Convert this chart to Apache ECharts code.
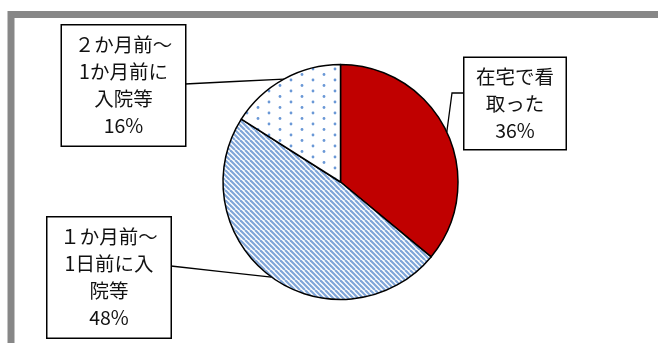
<!DOCTYPE html>
<html>
<head>
<meta charset="utf-8">
<script src="https://cdn.jsdelivr.net/npm/echarts@6/dist/echarts.min.js"></script>
<style>
html,body{margin:0;padding:0;background:#fff;}
#chart{width:658px;height:343px;}
</style>
</head>
<body>
<div id="chart"></div>
<script>
// Data
const categories = ['在宅で看\n取った', '１か月前～\n1日前に入\n院等', '２か月前～\n1か月前に\n入院等'];
const values = [36, 48, 16];

// Layout (positions only)
const CX = 340.5, CY = 182, R = 117.5;
const boxes = [
  {cx: 515, cy: 103.5, w: 101, pad: [5, 0], edge: [464, 93], elbow: [452, 93]},
  {cx: 109, cy: 277.5, w: 123, pad: [6, 0], edge: [171, 266]},
  {cx: 123.5, cy: 85.5, w: 123, pad: [6, 0], edge: [185, 84]}
];

function makeStripe() {
  const c = document.createElement('canvas');
  c.width = 10; c.height = 10;
  const g = c.getContext('2d');
  g.fillStyle = '#fff'; g.fillRect(0, 0, 10, 10);
  g.strokeStyle = '#7FA5D8'; g.lineWidth = 2.2;
  for (let o = -10; o <= 10; o += 5) {
    g.beginPath(); g.moveTo(o, 0); g.lineTo(o + 10, 10); g.stroke();
  }
  return c;
}
function makeDots() {
  const c = document.createElement('canvas');
  c.width = 22; c.height = 11;
  const g = c.getContext('2d');
  g.fillStyle = '#fff'; g.fillRect(0, 0, 22, 11);
  g.fillStyle = '#6A98D6';
  [[5, 3], [16, 8.5]].forEach(p => { g.beginPath(); g.arc(p[0], p[1], 1.4, 0, Math.PI * 2); g.fill(); });
  return c;
}

const fills = ['#C00000', {image: makeStripe(), repeat: 'repeat'}, {image: makeDots(), repeat: 'repeat'}];
const total = values.reduce((a, b) => a + b, 0);

const chart = echarts.init(document.getElementById('chart'), null, {renderer: 'canvas'});
chart.setOption({
  animation: false,
  graphic: [{
    type: 'rect', silent: true, z: -1,
    shape: {x: 11, y: 14.5, width: 720, height: 420},
    style: {fill: 'none', stroke: '#878787', lineWidth: 7}
  }],
  series: [{
    type: 'pie',
    center: [CX, CY],
    radius: R,
    startAngle: 90,
    clockwise: true,
    avoidLabelOverlap: false,
    emphasis: {disabled: true},
    itemStyle: {borderColor: '#000', borderWidth: 1.5},
    label: {
      show: true,
      formatter: '{b}\n{c}%',
      fontFamily: '"Noto Sans CJK JP", sans-serif',
      fontSize: 19.5,
      lineHeight: 27,
      color: '#111',
      backgroundColor: '#fff',
      borderColor: '#000',
      borderWidth: 1.5,
      align: 'center'
    },
    labelLine: {show: true, smooth: false, lineStyle: {color: '#000', width: 1.3}},
    labelLayout: function (params) {
      const i = params.dataIndex;
      const b = boxes[i];
      let cum = 0;
      for (let k = 0; k < i; k++) cum += values[k];
      const a = (cum + values[i] / 2) / total * Math.PI * 2;
      const p0 = [CX + R * Math.sin(a), CY - R * Math.cos(a)];
      const p1 = b.elbow ? b.elbow : [(p0[0] + b.edge[0]) / 2, (p0[1] + b.edge[1]) / 2];
      return {
        x: b.cx, y: b.cy, align: 'center', verticalAlign: 'middle',
        labelLinePoints: [p0, p1, b.edge]
      };
    },
    data: values.map((v, i) => ({
      name: categories[i], value: v,
      itemStyle: {color: fills[i]},
      label: {width: boxes[i].w, padding: boxes[i].pad}
    }))
  }]
});
</script>
</body>
</html>
